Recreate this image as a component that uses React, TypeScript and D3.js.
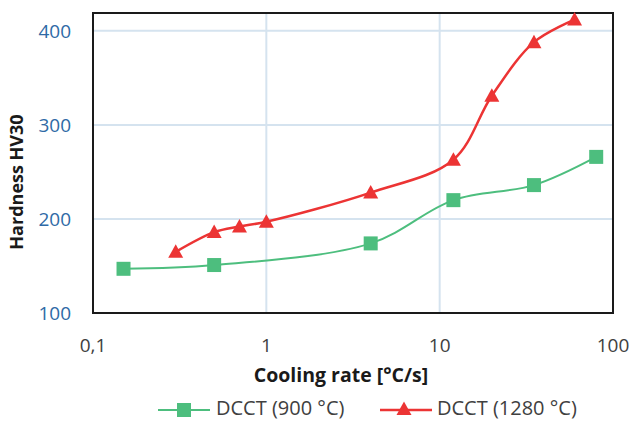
import React from "react";
import * as d3 from "d3";

const rate900 = [0.15, 0.5, 4, 12, 35, 80];
const hard900 = [147, 151, 174, 220, 236, 266];
const rate1280 = [0.3, 0.5, 0.7, 1, 4, 12, 20, 35, 60];
const hard1280 = [165, 186, 192, 197, 228, 263, 331, 388, 412];
const xTicks = [0.1, 1, 10, 100];
const xTickLabels = ["0,1", "1", "10", "100"];
const yTicks = [100, 200, 300, 400];
const seriesNames = ["DCCT (900 °C)", "DCCT (1280 °C)"];

const W = 632, H = 425;
const left = 93, right = 613, top = 13, bottom = 313;
const GREEN = "#4DBE7E";
const RED = "#EC3434";
const FONT = "'Open Sans', sans-serif";

export default function App() {
  const x = d3.scaleLog().domain([0.1, 100]).range([left, right]);
  const y = d3.scaleLinear().domain([100, 419]).range([bottom, top]);
  const line = d3
    .line<[number, number]>()
    .x((d) => x(d[0]))
    .y((d) => y(d[1]))
    .curve(d3.curveCatmullRom.alpha(0.5));
  const d900 = rate900.map((r, i) => [r, hard900[i]] as [number, number]);
  const d1280 = rate1280.map((r, i) => [r, hard1280[i]] as [number, number]);
  const tri = (cx: number, cy: number, s = 7.5) =>
    `M${cx},${cy - s} L${cx + s},${cy + s * 0.8} L${cx - s},${cy + s * 0.8} Z`;

  return (
    <svg
      width={W}
      height={H}
      style={{ position: "absolute", left: 0, top: 0, background: "#fff" }}
      fontFamily={FONT}
    >
      {yTicks.map((t) => (
        <line key={"gy" + t} x1={left} x2={right} y1={y(t)} y2={y(t)} stroke="#D5E3EF" strokeWidth={2} />
      ))}
      {xTicks.map((t) => (
        <line key={"gx" + t} x1={x(t)} x2={x(t)} y1={top} y2={bottom} stroke="#D5E3EF" strokeWidth={2} />
      ))}
      <rect x={left} y={top} width={right - left} height={bottom - top} fill="none" stroke="#1a1a1a" strokeWidth={2} />
      <path d={line(d900) || ""} fill="none" stroke={GREEN} strokeWidth={2} />
      <path d={line(d1280) || ""} fill="none" stroke={RED} strokeWidth={2.5} />
      {d900.map((d, i) => (
        <rect key={"s" + i} x={x(d[0]) - 7} y={y(d[1]) - 7} width={14} height={14} fill={GREEN} />
      ))}
      {d1280.map((d, i) => (
        <path key={"t" + i} d={tri(x(d[0]), y(d[1]))} fill={RED} />
      ))}
      {yTicks.map((t) => (
        <text key={"yt" + t} x={71} y={y(t)} dy="0.36em" textAnchor="end" fontSize={19} fill="#2E6AA6">
          {t}
        </text>
      ))}
      {xTicks.map((t, i) => (
        <text key={"xt" + t} x={x(t)} y={352} textAnchor="middle" fontSize={19} fill="#404040">
          {xTickLabels[i]}
        </text>
      ))}
      <text x={341} y={382} textAnchor="middle" fontSize={19.5} fontWeight="bold" fill="#1a1a1a">
        Cooling rate [°C/s]
      </text>
      <text
        transform="translate(23,182) rotate(-90)"
        textAnchor="middle"
        fontSize={18}
        fontWeight="bold"
        fill="#1a1a1a"
      >
        Hardness HV30
      </text>
      <line x1={158} x2={210} y1={410} y2={410} stroke={GREEN} strokeWidth={2} />
      <rect x={177} y={403} width={14} height={14} fill={GREEN} />
      <text x={216} y={415} fontSize={20} fill="#404040">{seriesNames[0]}</text>
      <line x1={380} x2={432} y1={410} y2={410} stroke={RED} strokeWidth={2.5} />
      <path d={tri(404, 409)} fill={RED} />
      <text x={437} y={415} fontSize={20} fill="#404040">{seriesNames[1]}</text>
    </svg>
  );
}
